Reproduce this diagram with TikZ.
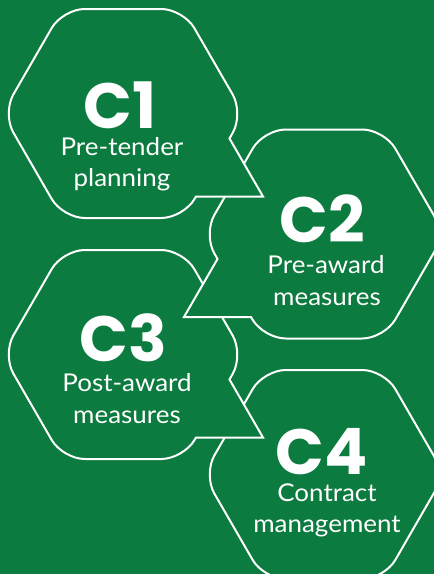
\documentclass[tikz,border=0pt]{standalone}
\usepackage{fontspec}
\setmainfont{Lato}[FakeStretch=1.06]
\newfontfamily\bigfont{Poppins}
\definecolor{bggreen}{HTML}{0B7B3F}
\begin{document}
\begin{tikzpicture}[x=1pt,y=-1pt,
  hexline/.style={draw=white, line width=2pt, fill=bggreen, line join=miter},
  bignum/.style={text=white, font=\bigfont\bfseries\fontsize{64}{64}\selectfont, inner sep=0pt, anchor=base, text height=46pt, text depth=0pt},
  subtext/.style={text=white, font=\fontsize{24.5}{30}\selectfont, inner sep=0pt, anchor=base, text height=17pt, text depth=5pt}]
\fill[bggreen] (0,0) rectangle (434,574);
\useasboundingbox (0,0) rectangle (434,574);
% C4
\begin{scope}[shift={(324,474.5)}]
\draw[hexline, rounded corners=22pt] (0,-104.5) -- (60.3,-104.5) -- (120.65,0) -- (60.3,104.5) -- (-60.3,104.5) -- (-120.65,0) -- (-60.3,-104.5) -- cycle;
\end{scope}
% C3
\begin{scope}[shift={(123,354.5)}]
\draw[hexline, rounded corners=22pt] (0,-104.5) -- (60.3,-104.5) -- (120.65,0) [sharp corners] -- (106.5,25) -- (140,83) -- (73,83) [rounded corners=22pt] -- (60.3,104.5) -- (-60.3,104.5) -- (-120.65,0) -- (-60.3,-104.5) -- cycle;
\end{scope}
% C2
\begin{scope}[shift={(324,234)}]
\draw[hexline, rounded corners=22pt] (0,-104.5) -- (60.3,-104.5) -- (120.65,0) -- (60.3,104.5) -- (-60.3,104.5) [sharp corners] -- (-73,83) -- (-140,83) -- (-106.5,25) [rounded corners=22pt] -- (-120.65,0) -- (-60.3,-104.5) -- cycle;
\end{scope}
% C1
\begin{scope}[shift={(123,113.5)}]
\draw[hexline, rounded corners=22pt] (0,-104.5) -- (60.3,-104.5) -- (120.65,0) [sharp corners] -- (106.5,25) -- (140,83) -- (73,83) [rounded corners=22pt] -- (60.3,104.5) -- (-60.3,104.5) -- (-120.65,0) -- (-60.3,-104.5) -- cycle;
\end{scope}
% texts
\node[bignum] (c1num) at (120,128) {C1};
\node[subtext] (c1a) at (122,155) {Pre-tender};
\node[subtext] (c1b) at (122,186) {planning};
\node[bignum] (c2num) at (322,242) {C2};
\node[subtext] (c2a) at (326,273) {Pre-award};
\node[subtext] (c2b) at (327,305) {measures};
\node[bignum] (c3num) at (123,361) {C3};
\node[subtext] (c3a) at (127,391) {Post-award};
\node[subtext] (c3b) at (127,423) {measures};
\node[bignum] (c4num) at (322,474) {C4};
\node[subtext] (c4a) at (327,501) {Contract};
\node[subtext] (c4b) at (327,532) {management};
\end{tikzpicture}
\end{document}
